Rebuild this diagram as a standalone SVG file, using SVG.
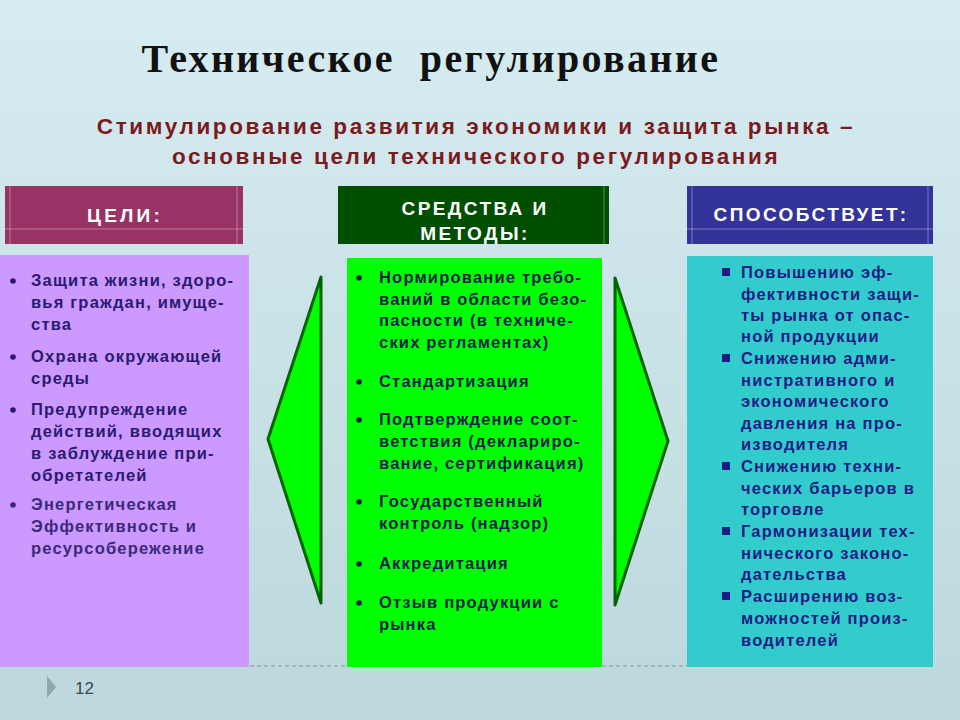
<svg xmlns="http://www.w3.org/2000/svg" width="960" height="720" viewBox="0 0 960 720">
<defs>
<linearGradient id="bg" x1="0" y1="0" x2="0" y2="1">
<stop offset="0" stop-color="#d6ecf1"/>
<stop offset="1" stop-color="#bcd8dc"/>
</linearGradient>
<style>
.hd{font-family:"Liberation Sans",Arial,sans-serif;font-weight:bold;font-size:19px;fill:#ffffff;text-anchor:middle;letter-spacing:2.4px}
.t{font-family:"Liberation Sans",Arial,sans-serif;font-weight:bold;font-size:16.5px;letter-spacing:1.2px}
.l{fill:#2a1a70}
.m{fill:#0c1f4a}
.r{fill:#1c1c86}
.arrow{fill:#00ff00;stroke:#006400;stroke-width:3;stroke-linejoin:round}
.frame{fill:none;stroke-opacity:0.35;stroke:#ffffff;stroke-width:1}
</style>
</defs>
<rect width="960" height="720" fill="url(#bg)"/>
<text x="431" y="72" font-family="'Liberation Serif','DejaVu Serif',serif" font-weight="bold" font-size="40" letter-spacing="2.4" fill="#111" text-anchor="middle" xml:space="preserve">Техническое  регулирование</text>
<g font-family="'Liberation Sans',Arial,sans-serif" font-weight="bold" font-size="22.5" fill="#7b1a1e" text-anchor="middle" letter-spacing="2.6">
<text x="476" y="134">Стимулирование развития экономики и защита рынка –</text>
<text x="476" y="164">основные цели технического регулирования</text>
</g>

<g id="goals-header">
<rect x="5" y="186" width="238" height="58" fill="#993366"/>
<path class="frame" d="M10 186V244M237 186V244M5 229H243"/>
<text class="hd" x="125" y="222" style="letter-spacing:3.2px">ЦЕЛИ:</text>
</g>
<g id="means-header">
<rect x="338" y="186" width="271" height="58" fill="#004f00"/>
<path class="frame" d="M604 186V244"/>
<text class="hd" x="475" y="215">СРЕДСТВА И</text>
<text class="hd" x="475" y="240">МЕТОДЫ:</text>
</g>
<g id="promotes-header">
<rect x="687" y="186" width="246" height="58" fill="#333399"/>
<path class="frame" d="M692 186V244M928 186V244M687 229H933"/>
<text class="hd" x="811" y="221">СПОСОБСТВУЕТ:</text>
</g>

<g id="goals">
<rect x="0" y="255" width="249" height="412" fill="#cc99ff"/>
<g class="t l">
<circle cx="13" cy="281" r="2.8" fill="#2a1a70"/>
<text x="31" y="286">Защита жизни, здоро-</text>
<text x="31" y="308">вья граждан, имуще-</text>
<text x="31" y="330">ства</text>
<circle cx="13" cy="357" r="2.8" fill="#2a1a70"/>
<text x="31" y="362">Охрана окружающей</text>
<text x="31" y="384">среды</text>
<circle cx="13" cy="410" r="2.8" fill="#2a1a70"/>
<text x="31" y="415">Предупреждение</text>
<text x="31" y="437">действий, вводящих</text>
<text x="31" y="459">в заблуждение при-</text>
<text x="31" y="481">обретателей</text>
<circle cx="13" cy="505" r="2.8" fill="#3a2a78"/>
<text x="31" y="510" fill="#3a2a78">Энергетическая</text>
<text x="31" y="532" fill="#3a2a78">Эффективность и</text>
<text x="31" y="554" fill="#3a2a78">ресурсобережение</text>
</g>
</g>

<g id="means">
<rect x="347" y="258" width="255" height="409" fill="#00ff00"/>
<g class="t m">
<circle cx="359" cy="278" r="2.8" fill="#0c1f4a"/>
<text x="379" y="283">Нормирование требо-</text>
<text x="379" y="305">ваний в области безо-</text>
<text x="379" y="326">пасности (в техниче-</text>
<text x="379" y="348">ских регламентах)</text>
<circle cx="359" cy="382" r="2.8" fill="#0c1f4a"/>
<text x="379" y="387">Стандартизация</text>
<circle cx="359" cy="420" r="2.8" fill="#0c1f4a"/>
<text x="379" y="425">Подтверждение соот-</text>
<text x="379" y="447">ветствия (деклариро-</text>
<text x="379" y="469">вание, сертификация)</text>
<circle cx="359" cy="502" r="2.8" fill="#0c1f4a"/>
<text x="379" y="507">Государственный</text>
<text x="379" y="529">контроль (надзор)</text>
<circle cx="359" cy="564" r="2.8" fill="#0c1f4a"/>
<text x="379" y="569">Аккредитация</text>
<circle cx="359" cy="603" r="2.8" fill="#0c1f4a"/>
<text x="379" y="608">Отзыв продукции с</text>
<text x="379" y="630">рынка</text>
</g>
</g>

<g id="promotes">
<rect x="687" y="256" width="246" height="411" fill="#33cccc"/>
<g class="t r">
<rect x="722" y="268" width="8" height="8" fill="#1c1c86"/>
<text x="741" y="278">Повышению эф-</text>
<text x="741" y="300">фективности защи-</text>
<text x="741" y="321">ты рынка от опас-</text>
<text x="741" y="342">ной продукции</text>
<rect x="722" y="354" width="8" height="8" fill="#1c1c86"/>
<text x="741" y="364">Снижению адми-</text>
<text x="741" y="386">нистративного и</text>
<text x="741" y="407">экономического</text>
<text x="741" y="429">давления на про-</text>
<text x="741" y="450">изводителя</text>
<rect x="722" y="462" width="8" height="8" fill="#1c1c86"/>
<text x="741" y="472">Снижению техни-</text>
<text x="741" y="494">ческих барьеров в</text>
<text x="741" y="515">торговле</text>
<rect x="722" y="527" width="8" height="8" fill="#1c1c86"/>
<text x="741" y="537">Гармонизации тех-</text>
<text x="741" y="559">нического законо-</text>
<text x="741" y="580">дательства</text>
<rect x="722" y="592" width="8" height="8" fill="#1c1c86"/>
<text x="741" y="602">Расширению воз-</text>
<text x="741" y="624">можностей произ-</text>
<text x="741" y="646">водителей</text>
</g>
</g>

<g id="connectors">
<polygon class="arrow" points="321,277 268,439 321,603"/>
<polygon class="arrow" points="615,278 668,441 615,605"/>
<path d="M250 666H347M602 666H687" stroke="#9aaab0" stroke-width="1.5" stroke-dasharray="4 3" fill="none"/>
</g>

<g id="footer">
<polygon points="47,676 56,687 47,698" fill="#8fa6ad"/>
<text x="75" y="694" font-family="'Liberation Sans',Arial,sans-serif" font-size="17" fill="#3a4650">12</text>
</g>
</svg>
